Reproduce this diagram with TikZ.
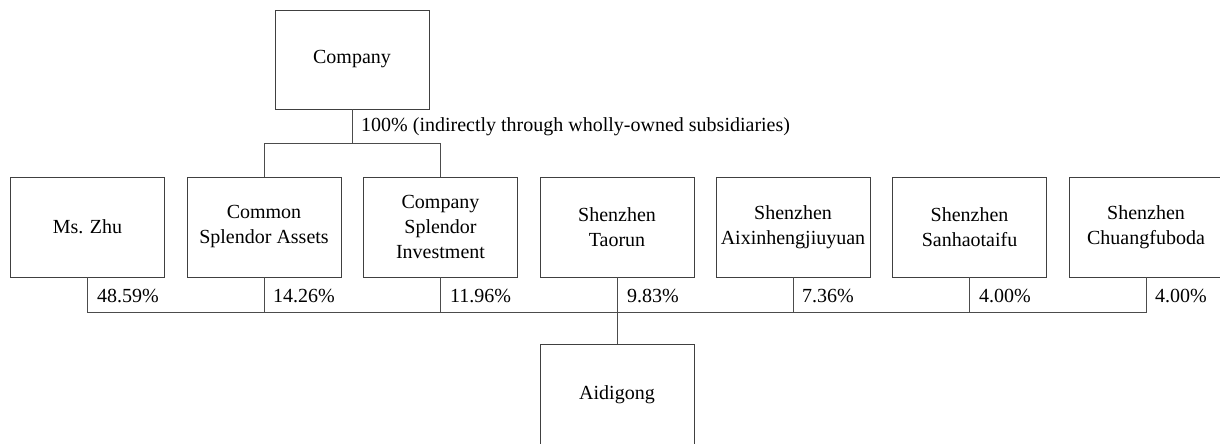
\documentclass[tikz,border=0pt]{standalone}
\usepackage{fontspec}
\setmainfont{Liberation Serif}
\begin{document}
\begin{tikzpicture}[x=1pt,y=-1pt,
  entity/.style={draw=black!75, line width=0.9pt, rectangle, minimum width=154pt, minimum height=100pt,
    align=center, inner sep=2pt, font=\fontsize{20}{25}\selectfont},
  link/.style={draw=black!70, line width=0.9pt},
  pct/.style={anchor=base west, inner sep=0pt, font=\fontsize{20}{24}\selectfont}]
\useasboundingbox (0,0) rectangle (1220,444);
\node[entity, minimum height=99pt] (company) at (352,59.5) {Company};
\node[entity] (zhu) at (87.5,227) {Ms. Zhu};
\node[entity] (common) at (264,227) {Common\\Splendor Assets};
\node[entity] (csi) at (440.5,227) {Company\\Splendor\\Investment};
\node[entity] (taorun) at (617,227) {Shenzhen\\Taorun};
\node[entity] (aixin) at (793,227) {Shenzhen\\Aixinhengjiuyuan};
\node[entity] (sanhao) at (969.5,227) {Shenzhen\\Sanhaotaifu};
\node[entity] (chuang) at (1146,227) {Shenzhen\\Chuangfuboda};
\node[entity, minimum height=101pt] (aidigong) at (617,394.5) {Aidigong};
\coordinate (top) at (0,143);
\coordinate (low) at (0,312);
% company to subsidiaries
\draw[link] (company.south) -- (company.south |- top);
\draw[link] (common.north) -- (common.north |- top) -- (csi.north |- top) -- (csi.north);
\node[pct] (lbl100) at (361,131) {100\% (indirectly through wholly-owned subsidiaries)};
% shareholders to Aidigong
\draw[link] (zhu.south) -- (zhu.south |- low) -- (chuang.south |- low) -- (chuang.south);
\draw[link] (common.south) -- (common.south |- low);
\draw[link] (csi.south) -- (csi.south |- low);
\draw[link] (taorun.south) -- (aidigong.north);
\draw[link] (aixin.south) -- (aixin.south |- low);
\draw[link] (sanhao.south) -- (sanhao.south |- low);
\node[pct] (p1) at (97,302) {48.59\%};
\node[pct] (p2) at (273,302) {14.26\%};
\node[pct] (p3) at (450,302) {11.96\%};
\node[pct] (p4) at (627,302) {9.83\%};
\node[pct] (p5) at (802,302) {7.36\%};
\node[pct] (p6) at (979,302) {4.00\%};
\node[pct] (p7) at (1155,302) {4.00\%};
\end{tikzpicture}
\end{document}
